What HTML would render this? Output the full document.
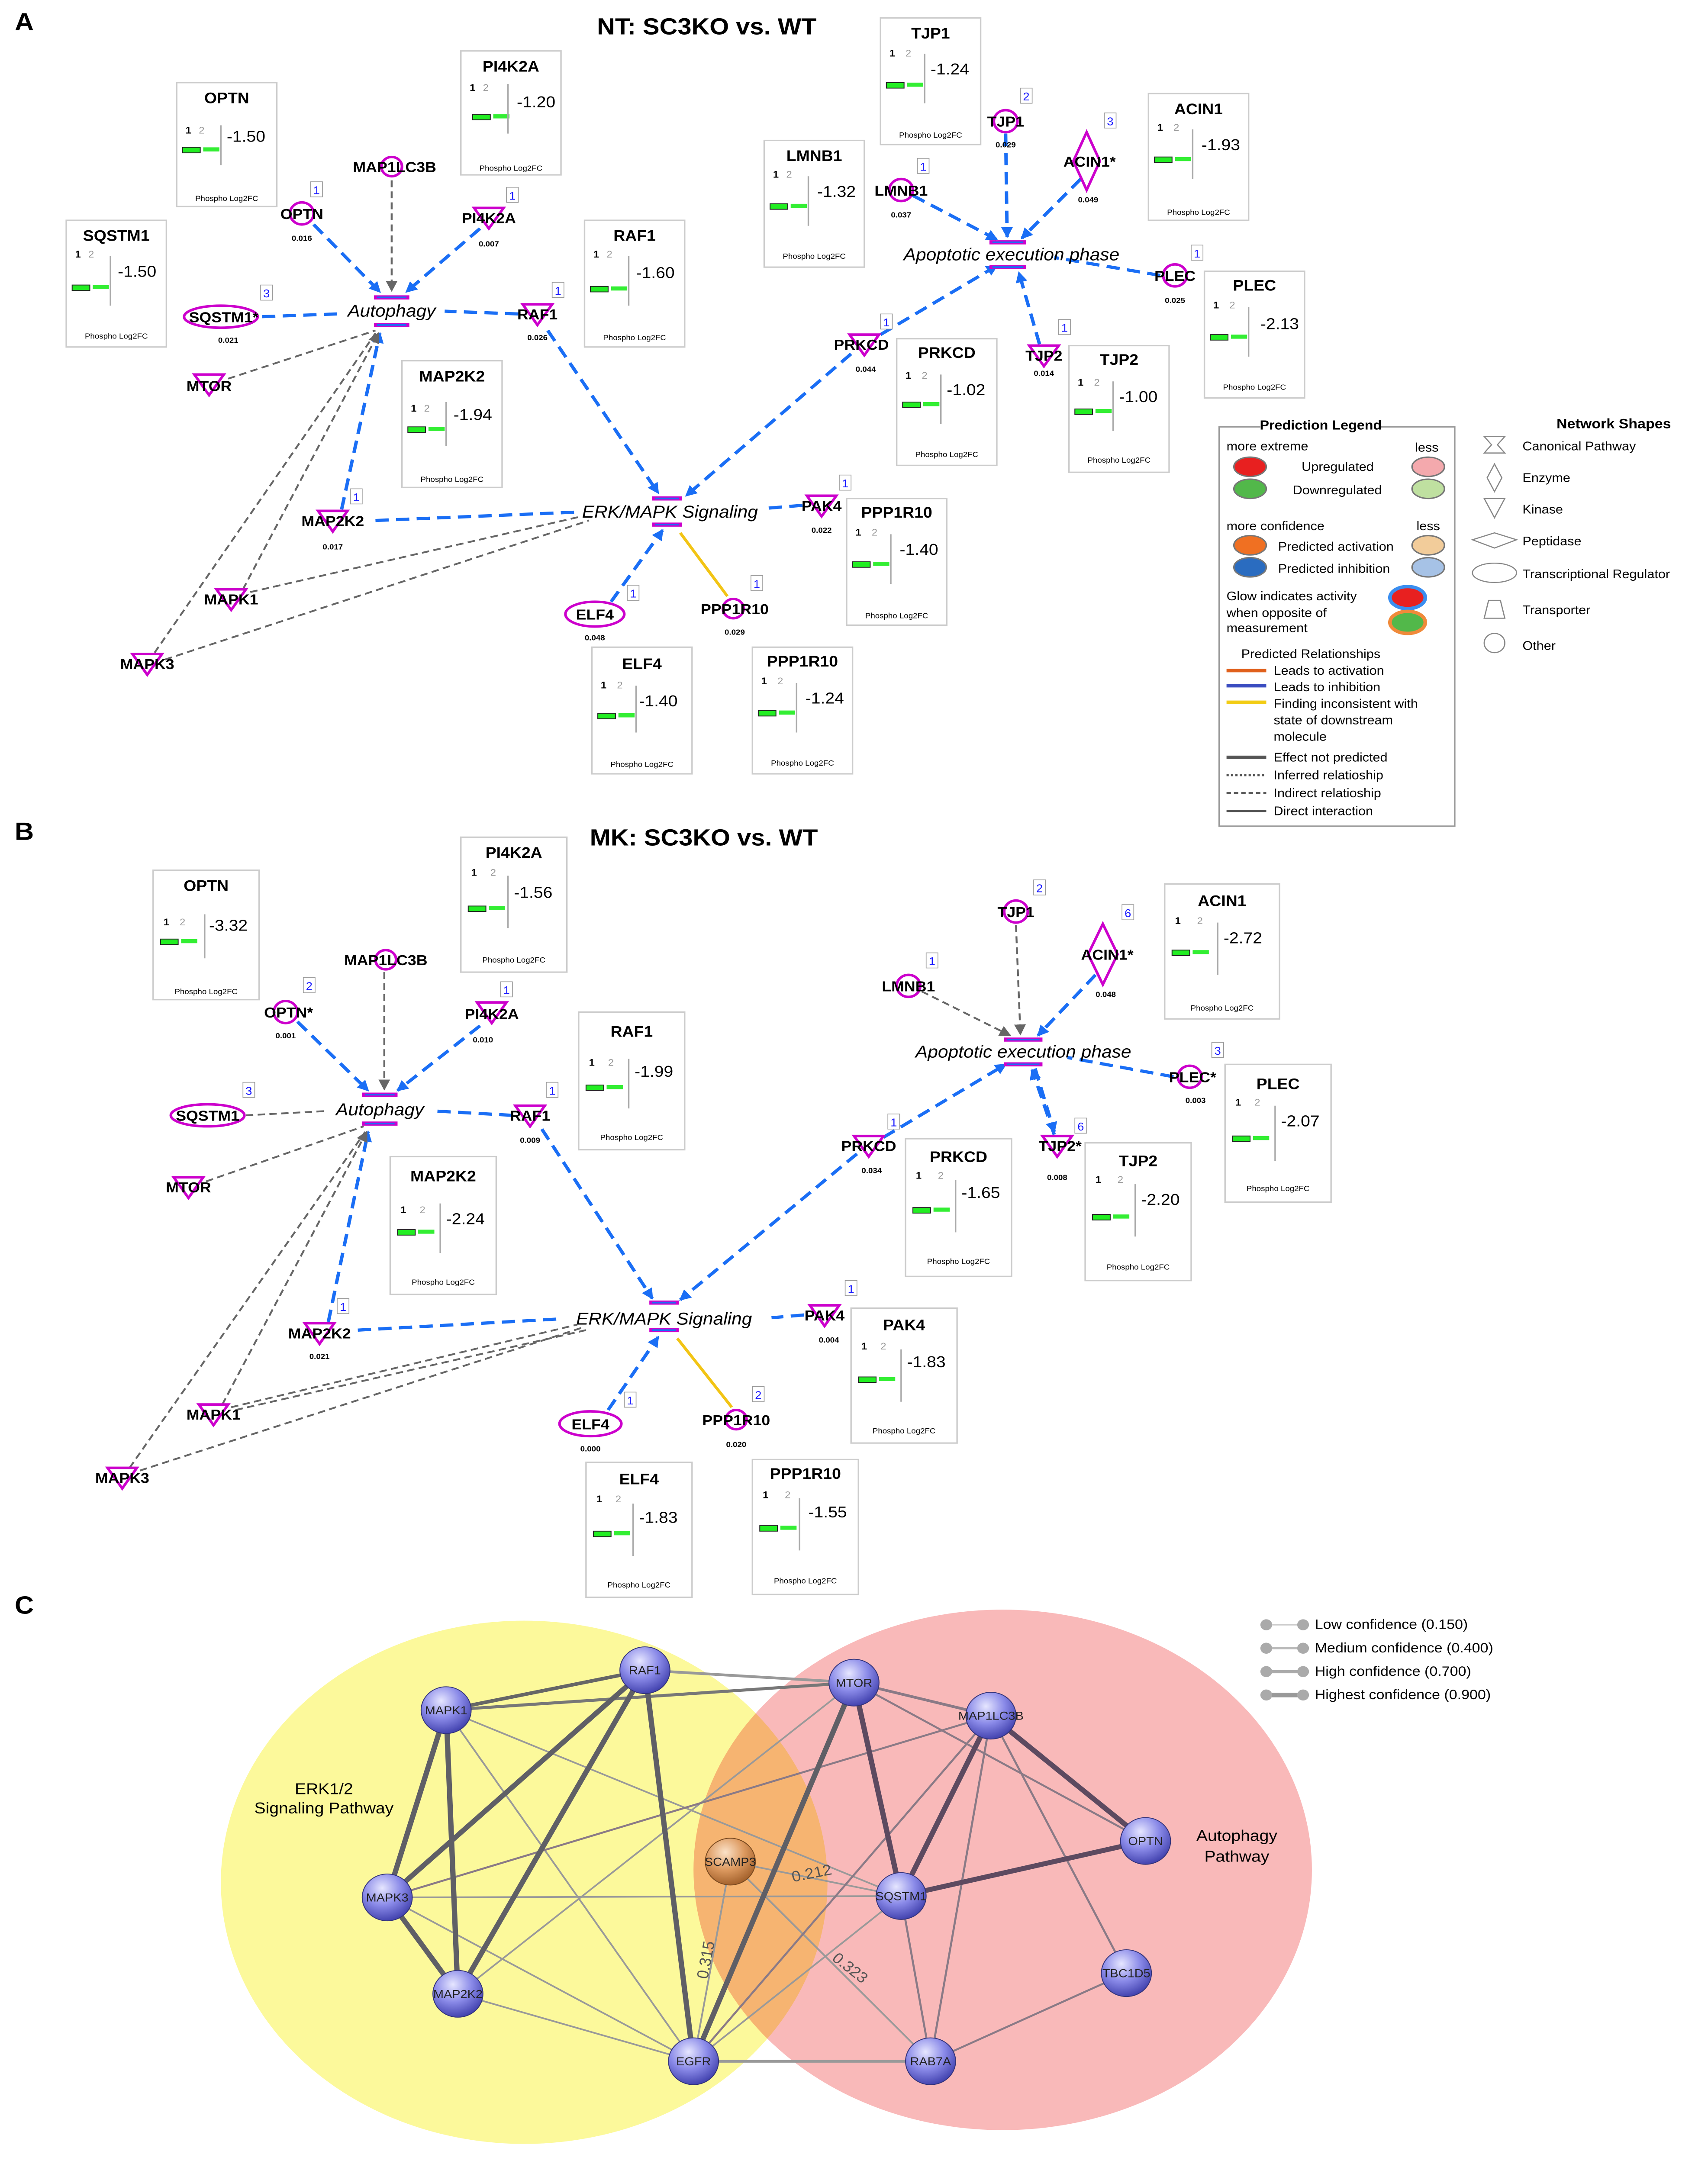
<!DOCTYPE html>
<html><head><meta charset="utf-8">
<style>
html,body{margin:0;padding:0;background:#fff;width:100vw;height:100vh;overflow:hidden;}
#wrap{width:100vw;height:100vh;overflow:hidden;position:relative;}
svg{display:block;position:absolute;left:0;top:0;width:100vw;height:100vh;}
text{font-family:"Liberation Sans",sans-serif;}
.bt{font-size:11px;font-weight:bold;text-anchor:middle;}
.n1{font-size:7px;font-weight:bold;}
.n2{font-size:7px;fill:#999;}
.bv{font-size:11.5px;}
.bf{font-size:5.5px;text-anchor:middle;}
.nl{font-size:10.5px;font-weight:bold;text-anchor:middle;}
.pv{font-size:5.5px;font-weight:bold;text-anchor:middle;}
.bn{font-size:8px;fill:#1a1aff;text-anchor:middle;}
.bd{stroke:#1a6ef5;stroke-width:2.3;stroke-dasharray:9 5;fill:none;}
.gd{stroke:#666;stroke-width:1.3;stroke-dasharray:5 3;fill:none;}
.sh{fill:none;stroke:#c0c;stroke-width:1.8;}
.pw{font-size:12.5px;font-style:italic;text-anchor:middle;}
.lg{font-size:9px;}
.cn{font-size:8.5px;text-anchor:middle;fill:#222;}
</style></head><body><div id="wrap">
<svg viewBox="0 0 1160 1571.6" preserveAspectRatio="none" xmlns="http://www.w3.org/2000/svg">
<defs>
<marker id="ab" markerWidth="8" markerHeight="8" refX="7" refY="4" orient="auto" markerUnits="userSpaceOnUse"><path d="M0,0 L8,4 L0,8 z" fill="#1a6ef5"/></marker>
<marker id="ag" markerWidth="8" markerHeight="8" refX="7" refY="4" orient="auto" markerUnits="userSpaceOnUse"><path d="M0,0 L8,4 L0,8 z" fill="#666"/></marker>
<radialGradient id="sb" cx="0.4" cy="0.3" r="0.75"><stop offset="0" stop-color="#e6e6ff"/><stop offset="0.5" stop-color="#8a8ae8"/><stop offset="1" stop-color="#3a3aa8"/></radialGradient>
<radialGradient id="so" cx="0.4" cy="0.3" r="0.75"><stop offset="0" stop-color="#fbe2c8"/><stop offset="0.5" stop-color="#dd9a60"/><stop offset="1" stop-color="#9c5a25"/></radialGradient>
</defs>
<rect width="1160" height="1572" fill="#fff"/>

<text x="10" y="22" font-size="18" font-weight="bold">A</text>
<text x="480" y="25" font-size="17" font-weight="bold" text-anchor="middle">NT: SC3KO vs. WT</text>

<line class="bd" x1="213" y1="163" x2="258" y2="212" marker-end="url(#ab)"/>
<line class="bd" x1="326" y1="166" x2="276" y2="212" marker-end="url(#ab)"/>
<line class="gd" x1="266" y1="131" x2="266" y2="211" marker-end="url(#ag)"/>
<line class="bd" x1="178" y1="230" x2="229" y2="228"/>
<line class="bd" x1="352" y1="228" x2="302" y2="226"/>
<line class="gd" x1="155" y1="275" x2="255" y2="240"/>
<line class="bd" x1="232" y1="370" x2="258" y2="242" marker-end="url(#ab)"/>
<line class="gd" x1="165" y1="428" x2="257" y2="242" marker-end="url(#ag)"/>
<line class="gd" x1="105" y1="474" x2="255" y2="242"/>
<line class="bd" x1="255" y1="378" x2="390" y2="372"/>
<line class="gd" x1="170" y1="430" x2="395" y2="375"/>
<line class="gd" x1="112" y1="479" x2="400" y2="378"/>
<line class="bd" x1="372" y1="240" x2="447" y2="358" marker-end="url(#ab)"/>
<line class="bd" x1="415" y1="437" x2="450" y2="385" marker-end="url(#ab)"/>
<line x1="494" y1="433" x2="462" y2="387" stroke="#f2c414" stroke-width="2"/>
<line class="bd" x1="545" y1="367" x2="522" y2="369"/>
<line class="bd" x1="578" y1="257" x2="466" y2="360" marker-end="url(#ab)"/>
<line class="bd" x1="598" y1="243" x2="677" y2="193" marker-end="url(#ab)"/>
<line class="bd" x1="683" y1="97" x2="684" y2="172" marker-end="url(#ab)"/>
<line class="bd" x1="620" y1="142" x2="677" y2="174" marker-end="url(#ab)"/>
<line class="bd" x1="734" y1="130" x2="694" y2="173" marker-end="url(#ab)"/>
<line class="bd" x1="788" y1="200" x2="716" y2="187"/>
<line class="bd" x1="706" y1="250" x2="692" y2="198" marker-end="url(#ab)"/>

<g stroke-width="3"><line x1="254" y1="216" x2="278" y2="216" stroke="#c0c"/><line x1="254" y1="236" x2="278" y2="236" stroke="#c0c"/>
<line x1="443" y1="362" x2="463" y2="362" stroke="#c0c"/><line x1="443" y1="381" x2="463" y2="381" stroke="#c0c"/>
<line x1="672" y1="176" x2="697" y2="176" stroke="#c0c"/><line x1="672" y1="194" x2="697" y2="194" stroke="#c0c"/></g>
<g stroke-width="1.2" stroke="#1a6ef5"><line x1="256" y1="216" x2="276" y2="216"/><line x1="256" y1="236" x2="276" y2="236"/><line x1="445" y1="362" x2="461" y2="362"/><line x1="445" y1="381" x2="461" y2="381"/><line x1="674" y1="176" x2="695" y2="176"/><line x1="674" y1="194" x2="695" y2="194"/></g>
<text class="pw" x="266" y="230">Autophagy</text>
<text class="pw" x="455" y="376">ERK/MAPK Signaling</text>
<text class="pw" x="687" y="189">Apoptotic execution phase</text>

<circle class="sh" cx="266" cy="121" r="7"/><text class="nl" x="268" y="125">MAP1LC3B</text>
<circle class="sh" cx="205" cy="155" r="8" fill="#dff5d8"/><text class="nl" x="205" y="159">OPTN</text><text class="pv" x="205" y="175">0.016</text>
<rect x="211" y="132" width="8" height="11" fill="#fff" stroke="#999" stroke-width=".5"/><text class="bn" x="215" y="141">1</text>
<polygon class="sh" points="322,151 342,151 332,166" fill="#dff5d8"/><text class="nl" x="332" y="162">PI4K2A</text><text class="pv" x="332" y="179">0.007</text>
<rect x="344" y="136" width="8" height="11" fill="#fff" stroke="#999" stroke-width=".5"/><text class="bn" x="348" y="145">1</text>
<ellipse class="sh" cx="150" cy="230" rx="25" ry="8" fill="#dff5d8"/><text class="nl" x="152" y="234">SQSTM1*</text><text class="pv" x="155" y="249">0.021</text>
<rect x="177" y="207" width="8" height="11" fill="#fff" stroke="#999" stroke-width=".5"/><text class="bn" x="181" y="216">3</text>
<polygon class="sh" points="132,272 152,272 142,287"/><text class="nl" x="142" y="284">MTOR</text>
<polygon class="sh" points="355,221 375,221 365,236" fill="#dff5d8"/><text class="nl" x="365" y="232">RAF1</text><text class="pv" x="365" y="247">0.026</text>
<rect x="375" y="205" width="8" height="11" fill="#fff" stroke="#999" stroke-width=".5"/><text class="bn" x="379" y="214">1</text>
<polygon class="sh" points="216,371 236,371 226,386" fill="#dff5d8"/><text class="nl" x="226" y="382">MAP2K2</text><text class="pv" x="226" y="399">0.017</text>
<rect x="238" y="355" width="8" height="11" fill="#fff" stroke="#999" stroke-width=".5"/><text class="bn" x="242" y="364">1</text>
<polygon class="sh" points="147,428 167,428 157,443"/><text class="nl" x="157" y="439">MAPK1</text>
<polygon class="sh" points="90,475 110,475 100,490"/><text class="nl" x="100" y="486">MAPK3</text>
<polygon class="sh" points="548,360 568,360 558,375" fill="#dff5d8"/><text class="nl" x="558" y="371">PAK4</text><text class="pv" x="558" y="387">0.022</text>
<rect x="570" y="345" width="8" height="11" fill="#fff" stroke="#999" stroke-width=".5"/><text class="bn" x="574" y="354">1</text>
<ellipse class="sh" cx="404" cy="446" rx="20" ry="9" fill="#cfeec0"/><text class="nl" x="404" y="450">ELF4</text><text class="pv" x="404" y="465">0.048</text>
<rect x="426" y="425" width="8" height="11" fill="#fff" stroke="#999" stroke-width=".5"/><text class="bn" x="430" y="434">1</text>
<circle class="sh" cx="498" cy="442" r="7" fill="#dff5d8"/><text class="nl" x="499" y="446">PPP1R10</text><text class="pv" x="499" y="461">0.029</text>
<rect x="510" y="418" width="8" height="11" fill="#fff" stroke="#999" stroke-width=".5"/><text class="bn" x="514" y="427">1</text>
<polygon class="sh" points="577,243 597,243 587,258" fill="#dff5d8"/><text class="nl" x="585" y="254">PRKCD</text><text class="pv" x="588" y="270">0.044</text>
<rect x="598" y="228" width="8" height="11" fill="#fff" stroke="#999" stroke-width=".5"/><text class="bn" x="602" y="237">1</text>
<circle class="sh" cx="683" cy="88" r="8" fill="#dff5d8"/><text class="nl" x="683" y="92">TJP1</text><text class="pv" x="683" y="107">0.029</text>
<rect x="693" y="64" width="8" height="11" fill="#fff" stroke="#999" stroke-width=".5"/><text class="bn" x="697" y="73">2</text>
<circle class="sh" cx="612" cy="138" r="8" fill="#dff5d8"/><text class="nl" x="612" y="142">LMNB1</text><text class="pv" x="612" y="158">0.037</text>
<rect x="623" y="115" width="8" height="11" fill="#fff" stroke="#999" stroke-width=".5"/><text class="bn" x="627" y="124">1</text>
<polygon class="sh" points="738,96 747,117 738,138 729,117" fill="#bde0a8"/><text class="nl" x="740" y="121">ACIN1*</text><text class="pv" x="739" y="147">0.049</text>
<rect x="750" y="82" width="8" height="11" fill="#fff" stroke="#999" stroke-width=".5"/><text class="bn" x="754" y="91">3</text>
<circle class="sh" cx="798" cy="200" r="8" fill="#dff5d8"/><text class="nl" x="798" y="204">PLEC</text><text class="pv" x="798" y="220">0.025</text>
<rect x="809" y="178" width="8" height="11" fill="#fff" stroke="#999" stroke-width=".5"/><text class="bn" x="813" y="187">1</text>
<polygon class="sh" points="699,251 719,251 709,266" fill="#dff5d8"/><text class="nl" x="709" y="262">TJP2</text><text class="pv" x="709" y="273">0.014</text>
<rect x="719" y="232" width="8" height="11" fill="#fff" stroke="#999" stroke-width=".5"/><text class="bn" x="723" y="241">1</text>

<g transform="translate(120,60)"><rect width="68" height="90" fill="#fff" stroke="#ccc"/><text class="bt" x="34" y="15">OPTN</text><text class="n1" x="6" y="37">1</text><text class="n2" x="15" y="37">2</text><rect x="4" y="47" width="12" height="4" fill="#2e2" stroke="#222" stroke-width=".6"/><rect x="18" y="47" width="11" height="3" fill="#3e3"/><line x1="30" y1="31" x2="30" y2="60" stroke="#aaa"/><text class="bv" x="34" y="43">-1.50</text><text class="bf" x="34" y="86">Phospho Log2FC</text></g>
<g transform="translate(313,37)"><rect width="68" height="90" fill="#fff" stroke="#ccc"/><text class="bt" x="34" y="15">PI4K2A</text><text class="n1" x="6" y="29">1</text><text class="n2" x="15" y="29">2</text><rect x="8" y="46" width="12" height="4" fill="#2e2" stroke="#222" stroke-width=".6"/><rect x="22" y="46" width="11" height="3" fill="#3e3"/><line x1="32" y1="24" x2="32" y2="60" stroke="#aaa"/><text class="bv" x="38" y="41">-1.20</text><text class="bf" x="34" y="87">Phospho Log2FC</text></g>
<g transform="translate(45,160)"><rect width="68" height="92" fill="#fff" stroke="#ccc"/><text class="bt" x="34" y="15">SQSTM1</text><text class="n1" x="6" y="27">1</text><text class="n2" x="15" y="27">2</text><rect x="4" y="47" width="12" height="4" fill="#2e2" stroke="#222" stroke-width=".6"/><rect x="18" y="47" width="11" height="3" fill="#3e3"/><line x1="30" y1="26" x2="30" y2="62" stroke="#aaa"/><text class="bv" x="35" y="41">-1.50</text><text class="bf" x="34" y="86">Phospho Log2FC</text></g>
<g transform="translate(397,160)"><rect width="68" height="92" fill="#fff" stroke="#ccc"/><text class="bt" x="34" y="15">RAF1</text><text class="n1" x="6" y="27">1</text><text class="n2" x="15" y="27">2</text><rect x="4" y="48" width="12" height="4" fill="#2e2" stroke="#222" stroke-width=".6"/><rect x="18" y="48" width="11" height="3" fill="#3e3"/><line x1="30" y1="26" x2="30" y2="62" stroke="#aaa"/><text class="bv" x="35" y="42">-1.60</text><text class="bf" x="34" y="87">Phospho Log2FC</text></g>
<g transform="translate(273,262)"><rect width="68" height="92" fill="#fff" stroke="#ccc"/><text class="bt" x="34" y="15">MAP2K2</text><text class="n1" x="6" y="37">1</text><text class="n2" x="15" y="37">2</text><rect x="4" y="48" width="12" height="4" fill="#2e2" stroke="#222" stroke-width=".6"/><rect x="18" y="48" width="11" height="3" fill="#3e3"/><line x1="30" y1="30" x2="30" y2="62" stroke="#aaa"/><text class="bv" x="35" y="43">-1.94</text><text class="bf" x="34" y="88">Phospho Log2FC</text></g>
<g transform="translate(519,102)"><rect width="68" height="92" fill="#fff" stroke="#ccc"/><text class="bt" x="34" y="15">LMNB1</text><text class="n1" x="6" y="27">1</text><text class="n2" x="15" y="27">2</text><rect x="4" y="46" width="12" height="4" fill="#2e2" stroke="#222" stroke-width=".6"/><rect x="18" y="46" width="11" height="3" fill="#3e3"/><line x1="30" y1="26" x2="30" y2="62" stroke="#aaa"/><text class="bv" x="36" y="41">-1.32</text><text class="bf" x="34" y="86">Phospho Log2FC</text></g>
<g transform="translate(598,13)"><rect width="68" height="92" fill="#fff" stroke="#ccc"/><text class="bt" x="34" y="15">TJP1</text><text class="n1" x="6" y="28">1</text><text class="n2" x="17" y="28">2</text><rect x="4" y="47" width="12" height="4" fill="#2e2" stroke="#222" stroke-width=".6"/><rect x="18" y="47" width="11" height="3" fill="#3e3"/><line x1="30" y1="26" x2="30" y2="62" stroke="#aaa"/><text class="bv" x="34" y="41">-1.24</text><text class="bf" x="34" y="87">Phospho Log2FC</text></g>
<g transform="translate(780,68)"><rect width="68" height="92" fill="#fff" stroke="#ccc"/><text class="bt" x="34" y="15">ACIN1</text><text class="n1" x="6" y="27">1</text><text class="n2" x="17" y="27">2</text><rect x="4" y="46" width="12" height="4" fill="#2e2" stroke="#222" stroke-width=".6"/><rect x="18" y="46" width="11" height="3" fill="#3e3"/><line x1="30" y1="26" x2="30" y2="62" stroke="#aaa"/><text class="bv" x="36" y="41">-1.93</text><text class="bf" x="34" y="88">Phospho Log2FC</text></g>
<g transform="translate(818,197)"><rect width="68" height="92" fill="#fff" stroke="#ccc"/><text class="bt" x="34" y="14">PLEC</text><text class="n1" x="6" y="27">1</text><text class="n2" x="17" y="27">2</text><rect x="4" y="46" width="12" height="4" fill="#2e2" stroke="#222" stroke-width=".6"/><rect x="18" y="46" width="11" height="3" fill="#3e3"/><line x1="30" y1="26" x2="30" y2="62" stroke="#aaa"/><text class="bv" x="38" y="42">-2.13</text><text class="bf" x="34" y="86">Phospho Log2FC</text></g>
<g transform="translate(609,246)"><rect width="68" height="92" fill="#fff" stroke="#ccc"/><text class="bt" x="34" y="14">PRKCD</text><text class="n1" x="6" y="29">1</text><text class="n2" x="17" y="29">2</text><rect x="4" y="46" width="12" height="4" fill="#2e2" stroke="#222" stroke-width=".6"/><rect x="18" y="46" width="11" height="3" fill="#3e3"/><line x1="30" y1="26" x2="30" y2="62" stroke="#aaa"/><text class="bv" x="34" y="41">-1.02</text><text class="bf" x="34" y="86">Phospho Log2FC</text></g>
<g transform="translate(726,251)"><rect width="68" height="92" fill="#fff" stroke="#ccc"/><text class="bt" x="34" y="14">TJP2</text><text class="n1" x="6" y="29">1</text><text class="n2" x="17" y="29">2</text><rect x="4" y="46" width="12" height="4" fill="#2e2" stroke="#222" stroke-width=".6"/><rect x="18" y="46" width="11" height="3" fill="#3e3"/><line x1="30" y1="26" x2="30" y2="62" stroke="#aaa"/><text class="bv" x="34" y="41">-1.00</text><text class="bf" x="34" y="85">Phospho Log2FC</text></g>
<g transform="translate(575,362)"><rect width="68" height="92" fill="#fff" stroke="#ccc"/><text class="bt" x="34" y="14">PPP1R10</text><text class="n1" x="6" y="27">1</text><text class="n2" x="17" y="27">2</text><rect x="4" y="46" width="12" height="4" fill="#2e2" stroke="#222" stroke-width=".6"/><rect x="18" y="46" width="11" height="3" fill="#3e3"/><line x1="30" y1="26" x2="30" y2="62" stroke="#aaa"/><text class="bv" x="36" y="41">-1.40</text><text class="bf" x="34" y="87">Phospho Log2FC</text></g>
<g transform="translate(402,470)"><rect width="68" height="92" fill="#fff" stroke="#ccc"/><text class="bt" x="34" y="16">ELF4</text><text class="n1" x="6" y="30">1</text><text class="n2" x="17" y="30">2</text><rect x="4" y="48" width="12" height="4" fill="#2e2" stroke="#222" stroke-width=".6"/><rect x="18" y="48" width="11" height="3" fill="#3e3"/><line x1="30" y1="28" x2="30" y2="62" stroke="#aaa"/><text class="bv" x="32" y="43">-1.40</text><text class="bf" x="34" y="87">Phospho Log2FC</text></g>
<g transform="translate(511,470)"><rect width="68" height="92" fill="#fff" stroke="#ccc"/><text class="bt" x="34" y="14">PPP1R10</text><text class="n1" x="6" y="27">1</text><text class="n2" x="17" y="27">2</text><rect x="4" y="46" width="12" height="4" fill="#2e2" stroke="#222" stroke-width=".6"/><rect x="18" y="46" width="11" height="3" fill="#3e3"/><line x1="30" y1="26" x2="30" y2="62" stroke="#aaa"/><text class="bv" x="36" y="41">-1.24</text><text class="bf" x="34" y="86">Phospho Log2FC</text></g>

<rect x="828" y="310" width="160" height="290" fill="#fff" stroke="#999"/>
<rect x="856" y="303" width="82" height="12" fill="#fff"/>
<text x="897" y="312" font-size="9.5" font-weight="bold" text-anchor="middle">Prediction Legend</text>
<text class="lg" x="833" y="327">more extreme</text><text class="lg" x="961" y="328">less</text>
<ellipse cx="849" cy="339" rx="11" ry="7" fill="#e82020" stroke="#777"/><text class="lg" x="884" y="342">Upregulated</text><ellipse cx="970" cy="339" rx="11" ry="7" fill="#f4a9ad" stroke="#777"/>
<ellipse cx="849" cy="355" rx="11" ry="7" fill="#52b84a" stroke="#777"/><text class="lg" x="878" y="359">Downregulated</text><ellipse cx="970" cy="355" rx="11" ry="7" fill="#bfe0a0" stroke="#777"/>
<text class="lg" x="833" y="385">more confidence</text><text class="lg" x="962" y="385">less</text>
<ellipse cx="849" cy="396" rx="11" ry="7" fill="#f07022" stroke="#777"/><text class="lg" x="868" y="400">Predicted activation</text><ellipse cx="970" cy="396" rx="11" ry="7" fill="#f2cc9a" stroke="#777"/>
<ellipse cx="849" cy="412" rx="11" ry="7" fill="#2a6cc0" stroke="#777"/><text class="lg" x="868" y="416">Predicted inhibition</text><ellipse cx="970" cy="412" rx="11" ry="7" fill="#a6c2e6" stroke="#777"/>
<text class="lg" x="833" y="436">Glow indicates activity</text><text class="lg" x="833" y="448">when opposite of</text><text class="lg" x="833" y="459">measurement</text>
<ellipse cx="956" cy="434" rx="12" ry="8" fill="#e82020" stroke="#3a8ef0" stroke-width="2.5"/>
<ellipse cx="956" cy="452" rx="12" ry="8" fill="#52b84a" stroke="#f08a3a" stroke-width="2.5"/>
<text class="lg" x="843" y="478">Predicted Relationships</text>
<line x1="833" y1="487" x2="860" y2="487" stroke="#e0601c" stroke-width="2.5"/><text class="lg" x="865" y="490">Leads to activation</text>
<line x1="833" y1="498" x2="860" y2="498" stroke="#3a4cc0" stroke-width="2.5"/><text class="lg" x="865" y="502">Leads to inhibition</text>
<line x1="833" y1="510" x2="860" y2="510" stroke="#f2cc14" stroke-width="2.5"/><text class="lg" x="865" y="514">Finding inconsistent with</text><text class="lg" x="865" y="526">state of downstream</text><text class="lg" x="865" y="538">molecule</text>
<line x1="833" y1="550" x2="860" y2="550" stroke="#555" stroke-width="2.5"/><text class="lg" x="865" y="553">Effect not predicted</text>
<line x1="833" y1="563" x2="860" y2="563" stroke="#555" stroke-width="1.5" stroke-dasharray="1.5 1.5"/><text class="lg" x="865" y="566">Inferred relatioship</text>
<line x1="833" y1="576" x2="860" y2="576" stroke="#555" stroke-width="1.5" stroke-dasharray="3 2"/><text class="lg" x="865" y="579">Indirect relatioship</text>
<line x1="833" y1="589" x2="860" y2="589" stroke="#555" stroke-width="1.5"/><text class="lg" x="865" y="592">Direct interaction</text>

<text x="1096" y="311" font-size="10" font-weight="bold" text-anchor="middle">Network Shapes</text>
<g fill="none" stroke="#888" stroke-width=".8">
<path d="M1008,317 L1022,317 L1017,323 L1022,329 L1008,329 L1013,323 Z"/>
<polygon points="1015,337 1020,347 1015,357 1010,347"/>
<polygon points="1008,362 1022,362 1015,376"/>
<polygon points="1000,392 1015,387 1030,392 1015,398"/>
<ellipse cx="1015" cy="416" rx="15" ry="7"/>
<polygon points="1011,436 1019,436 1022,449 1008,449"/>
<circle cx="1015" cy="467" r="7"/>
</g>
<text class="lg" x="1034" y="327">Canonical Pathway</text>
<text class="lg" x="1034" y="350">Enzyme</text>
<text class="lg" x="1034" y="373">Kinase</text>
<text class="lg" x="1034" y="396">Peptidase</text>
<text class="lg" x="1034" y="420">Transcriptional Regulator</text>
<text class="lg" x="1034" y="446">Transporter</text>
<text class="lg" x="1034" y="472">Other</text>

<text x="10" y="610" font-size="18" font-weight="bold">B</text>
<text x="478" y="614" font-size="17" font-weight="bold" text-anchor="middle">MK: SC3KO vs. WT</text>

<line class="gd" x1="261" y1="706" x2="261" y2="791" marker-end="url(#ag)"/>
<line class="bd" x1="202" y1="742" x2="250" y2="792" marker-end="url(#ab)"/>
<line class="bd" x1="326" y1="745" x2="270" y2="792" marker-end="url(#ab)"/>
<line class="gd" x1="167" y1="810" x2="220" y2="807"/>
<line class="bd" x1="348" y1="810" x2="297" y2="807"/>
<line class="gd" x1="140" y1="858" x2="247" y2="818"/>
<line class="bd" x1="223" y1="960" x2="250" y2="822" marker-end="url(#ab)"/>
<line class="gd" x1="151" y1="1020" x2="249" y2="822" marker-end="url(#ag)"/>
<line class="gd" x1="88" y1="1066" x2="248" y2="822"/>
<line class="bd" x1="243" y1="966" x2="378" y2="958"/>
<line class="gd" x1="157" y1="1022" x2="392" y2="962"/>
<line class="gd" x1="95" y1="1068" x2="396" y2="964"/>
<line class="gd" x1="160" y1="1024" x2="398" y2="966"/>
<line class="bd" x1="368" y1="820" x2="443" y2="943" marker-end="url(#ab)"/>
<line class="bd" x1="413" y1="1024" x2="447" y2="971" marker-end="url(#ab)"/>
<line x1="497" y1="1022" x2="460" y2="972" stroke="#f2c414" stroke-width="2"/>
<line class="bd" x1="546" y1="955" x2="524" y2="957"/>
<line class="bd" x1="582" y1="838" x2="462" y2="944" marker-end="url(#ab)"/>
<line class="bd" x1="600" y1="826" x2="683" y2="773" marker-end="url(#ab)"/>
<line class="gd" x1="690" y1="672" x2="693" y2="751" marker-end="url(#ag)"/>
<line class="gd" x1="626" y1="720" x2="686" y2="752" marker-end="url(#ag)"/>
<line class="bd" x1="744" y1="708" x2="705" y2="752" marker-end="url(#ab)"/>
<line class="bd" x1="797" y1="782" x2="725" y2="768"/>
<line class="bd" x1="716" y1="824" x2="701" y2="777" marker-end="url(#ab)"/>
<line class="bd" x1="703" y1="776" x2="716" y2="822" marker-end="url(#ab)"/>

<g stroke-width="3" stroke="#c0c"><line x1="246" y1="795" x2="270" y2="795"/><line x1="246" y1="816" x2="270" y2="816"/>
<line x1="441" y1="946" x2="461" y2="946"/><line x1="441" y1="966" x2="461" y2="966"/>
<line x1="682" y1="755" x2="708" y2="755"/><line x1="682" y1="773" x2="708" y2="773"/></g>
<g stroke-width="1.2" stroke="#1a6ef5"><line x1="248" y1="795" x2="268" y2="795"/><line x1="248" y1="816" x2="268" y2="816"/><line x1="443" y1="946" x2="459" y2="946"/><line x1="443" y1="966" x2="459" y2="966"/><line x1="684" y1="755" x2="706" y2="755"/><line x1="684" y1="773" x2="706" y2="773"/></g>
<text class="pw" x="258" y="810">Autophagy</text>
<text class="pw" x="451" y="962">ERK/MAPK Signaling</text>
<text class="pw" x="695" y="768">Apoptotic execution phase</text>

<circle class="sh" cx="262" cy="697" r="7"/><text class="nl" x="262" y="701">MAP1LC3B</text>
<circle class="sh" cx="194" cy="735" r="8" fill="#dff5d8"/><text class="nl" x="196" y="739">OPTN*</text><text class="pv" x="194" y="754">0.001</text>
<rect x="206" y="710" width="8" height="11" fill="#fff" stroke="#999" stroke-width=".5"/><text class="bn" x="210" y="719">2</text>
<polygon class="sh" points="324,728 344,728 334,743" fill="#dff5d8"/><text class="nl" x="334" y="740">PI4K2A</text><text class="pv" x="328" y="757">0.010</text>
<rect x="340" y="713" width="8" height="11" fill="#fff" stroke="#999" stroke-width=".5"/><text class="bn" x="344" y="722">1</text>
<ellipse class="sh" cx="141" cy="810" rx="25" ry="8"/><text class="nl" x="141" y="814">SQSTM1</text>
<rect x="165" y="786" width="8" height="11" fill="#fff" stroke="#999" stroke-width=".5"/><text class="bn" x="169" y="795">3</text>
<polygon class="sh" points="118,855 138,855 128,870"/><text class="nl" x="128" y="866">MTOR</text>
<polygon class="sh" points="350,803 370,803 360,818" fill="#dff5d8"/><text class="nl" x="360" y="814">RAF1</text><text class="pv" x="360" y="830">0.009</text>
<rect x="371" y="786" width="8" height="11" fill="#fff" stroke="#999" stroke-width=".5"/><text class="bn" x="375" y="795">1</text>
<polygon class="sh" points="207,961 227,961 217,976" fill="#dff5d8"/><text class="nl" x="217" y="972">MAP2K2</text><text class="pv" x="217" y="987">0.021</text>
<rect x="229" y="943" width="8" height="11" fill="#fff" stroke="#999" stroke-width=".5"/><text class="bn" x="233" y="952">1</text>
<polygon class="sh" points="135,1020 155,1020 145,1035"/><text class="nl" x="145" y="1031">MAPK1</text>
<polygon class="sh" points="73,1066 93,1066 83,1081"/><text class="nl" x="83" y="1077">MAPK3</text>
<polygon class="sh" points="550,948 570,948 560,963" fill="#dff5d8"/><text class="nl" x="560" y="959">PAK4</text><text class="pv" x="563" y="975">0.004</text>
<rect x="574" y="930" width="8" height="11" fill="#fff" stroke="#999" stroke-width=".5"/><text class="bn" x="578" y="939">1</text>
<ellipse class="sh" cx="401" cy="1034" rx="21" ry="9" fill="#cfeec0"/><text class="nl" x="401" y="1038">ELF4</text><text class="pv" x="401" y="1054">0.000</text>
<rect x="424" y="1011" width="8" height="11" fill="#fff" stroke="#999" stroke-width=".5"/><text class="bn" x="428" y="1020">1</text>
<circle class="sh" cx="500" cy="1031" r="7" fill="#dff5d8"/><text class="nl" x="500" y="1035">PPP1R10</text><text class="pv" x="500" y="1051">0.020</text>
<rect x="511" y="1007" width="8" height="11" fill="#fff" stroke="#999" stroke-width=".5"/><text class="bn" x="515" y="1016">2</text>
<polygon class="sh" points="580,825 600,825 590,840" fill="#dff5d8"/><text class="nl" x="590" y="836">PRKCD</text><text class="pv" x="592" y="852">0.034</text>
<rect x="603" y="809" width="8" height="11" fill="#fff" stroke="#999" stroke-width=".5"/><text class="bn" x="607" y="818">1</text>
<circle class="sh" cx="690" cy="662" r="8"/><text class="nl" x="690" y="666">TJP1</text>
<rect x="702" y="639" width="8" height="11" fill="#fff" stroke="#999" stroke-width=".5"/><text class="bn" x="706" y="648">2</text>
<circle class="sh" cx="617" cy="716" r="8"/><text class="nl" x="617" y="720">LMNB1</text>
<rect x="629" y="692" width="8" height="11" fill="#fff" stroke="#999" stroke-width=".5"/><text class="bn" x="633" y="701">1</text>
<polygon class="sh" points="749,671 759,693 749,715 739,693" fill="#8fd07a"/><text class="nl" x="752" y="697">ACIN1*</text><text class="pv" x="751" y="724">0.048</text>
<rect x="762" y="657" width="8" height="11" fill="#fff" stroke="#999" stroke-width=".5"/><text class="bn" x="766" y="666">6</text>
<circle class="sh" cx="808" cy="782" r="8" fill="#dff5d8"/><text class="nl" x="810" y="786">PLEC*</text><text class="pv" x="812" y="801">0.003</text>
<rect x="823" y="757" width="8" height="11" fill="#fff" stroke="#999" stroke-width=".5"/><text class="bn" x="827" y="766">3</text>
<polygon class="sh" points="708,825 728,825 718,840" fill="#dff5d8"/><text class="nl" x="720" y="836">TJP2*</text><text class="pv" x="718" y="857">0.008</text>
<rect x="730" y="812" width="8" height="11" fill="#fff" stroke="#999" stroke-width=".5"/><text class="bn" x="734" y="821">6</text>

<g transform="translate(104,632)"><rect width="72" height="94" fill="#fff" stroke="#ccc"/><text class="bt" x="36" y="15">OPTN</text><text class="n1" x="7" y="40">1</text><text class="n2" x="18" y="40">2</text><rect x="5" y="50" width="12" height="4" fill="#2e2" stroke="#222" stroke-width=".6"/><rect x="19" y="50" width="11" height="3" fill="#3e3"/><line x1="35" y1="32" x2="35" y2="64" stroke="#aaa"/><text class="bv" x="38" y="44">-3.32</text><text class="bf" x="36" y="90">Phospho Log2FC</text></g>
<g transform="translate(313,608)"><rect width="72" height="98" fill="#fff" stroke="#ccc"/><text class="bt" x="36" y="15">PI4K2A</text><text class="n1" x="7" y="28">1</text><text class="n2" x="20" y="28">2</text><rect x="5" y="50" width="12" height="4" fill="#2e2" stroke="#222" stroke-width=".6"/><rect x="19" y="50" width="11" height="3" fill="#3e3"/><line x1="32" y1="28" x2="32" y2="66" stroke="#aaa"/><text class="bv" x="36" y="44">-1.56</text><text class="bf" x="36" y="91">Phospho Log2FC</text></g>
<g transform="translate(393,735)"><rect width="72" height="100" fill="#fff" stroke="#ccc"/><text class="bt" x="36" y="18">RAF1</text><text class="n1" x="7" y="39">1</text><text class="n2" x="20" y="39">2</text><rect x="5" y="53" width="12" height="4" fill="#2e2" stroke="#222" stroke-width=".6"/><rect x="19" y="53" width="11" height="3" fill="#3e3"/><line x1="34" y1="34" x2="34" y2="70" stroke="#aaa"/><text class="bv" x="38" y="47">-1.99</text><text class="bf" x="36" y="93">Phospho Log2FC</text></g>
<g transform="translate(265,840)"><rect width="72" height="100" fill="#fff" stroke="#ccc"/><text class="bt" x="36" y="18">MAP2K2</text><text class="n1" x="7" y="41">1</text><text class="n2" x="20" y="41">2</text><rect x="5" y="53" width="12" height="4" fill="#2e2" stroke="#222" stroke-width=".6"/><rect x="19" y="53" width="11" height="3" fill="#3e3"/><line x1="34" y1="34" x2="34" y2="70" stroke="#aaa"/><text class="bv" x="38" y="49">-2.24</text><text class="bf" x="36" y="93">Phospho Log2FC</text></g>
<g transform="translate(791,642)"><rect width="78" height="98" fill="#fff" stroke="#ccc"/><text class="bt" x="39" y="16">ACIN1</text><text class="n1" x="7" y="29">1</text><text class="n2" x="22" y="29">2</text><rect x="5" y="48" width="12" height="4" fill="#2e2" stroke="#222" stroke-width=".6"/><rect x="19" y="48" width="11" height="3" fill="#3e3"/><line x1="36" y1="28" x2="36" y2="66" stroke="#aaa"/><text class="bv" x="40" y="43">-2.72</text><text class="bf" x="39" y="92">Phospho Log2FC</text></g>
<g transform="translate(832,773)"><rect width="72" height="100" fill="#fff" stroke="#ccc"/><text class="bt" x="36" y="18">PLEC</text><text class="n1" x="7" y="30">1</text><text class="n2" x="20" y="30">2</text><rect x="5" y="52" width="12" height="4" fill="#2e2" stroke="#222" stroke-width=".6"/><rect x="19" y="52" width="11" height="3" fill="#3e3"/><line x1="34" y1="30" x2="34" y2="70" stroke="#aaa"/><text class="bv" x="38" y="45">-2.07</text><text class="bf" x="36" y="92">Phospho Log2FC</text></g>
<g transform="translate(615,827)"><rect width="72" height="100" fill="#fff" stroke="#ccc"/><text class="bt" x="36" y="17">PRKCD</text><text class="n1" x="7" y="29">1</text><text class="n2" x="22" y="29">2</text><rect x="5" y="50" width="12" height="4" fill="#2e2" stroke="#222" stroke-width=".6"/><rect x="19" y="50" width="11" height="3" fill="#3e3"/><line x1="34" y1="30" x2="34" y2="68" stroke="#aaa"/><text class="bv" x="38" y="43">-1.65</text><text class="bf" x="36" y="91">Phospho Log2FC</text></g>
<g transform="translate(737,830)"><rect width="72" height="100" fill="#fff" stroke="#ccc"/><text class="bt" x="36" y="17">TJP2</text><text class="n1" x="7" y="29">1</text><text class="n2" x="22" y="29">2</text><rect x="5" y="52" width="12" height="4" fill="#2e2" stroke="#222" stroke-width=".6"/><rect x="19" y="52" width="11" height="3" fill="#3e3"/><line x1="34" y1="30" x2="34" y2="68" stroke="#aaa"/><text class="bv" x="38" y="45">-2.20</text><text class="bf" x="36" y="92">Phospho Log2FC</text></g>
<g transform="translate(578,950)"><rect width="72" height="98" fill="#fff" stroke="#ccc"/><text class="bt" x="36" y="16">PAK4</text><text class="n1" x="7" y="30">1</text><text class="n2" x="20" y="30">2</text><rect x="5" y="50" width="12" height="4" fill="#2e2" stroke="#222" stroke-width=".6"/><rect x="19" y="50" width="11" height="3" fill="#3e3"/><line x1="34" y1="30" x2="34" y2="68" stroke="#aaa"/><text class="bv" x="38" y="43">-1.83</text><text class="bf" x="36" y="91">Phospho Log2FC</text></g>
<g transform="translate(398,1062)"><rect width="72" height="98" fill="#fff" stroke="#ccc"/><text class="bt" x="36" y="16">ELF4</text><text class="n1" x="7" y="29">1</text><text class="n2" x="20" y="29">2</text><rect x="5" y="50" width="12" height="4" fill="#2e2" stroke="#222" stroke-width=".6"/><rect x="19" y="50" width="11" height="3" fill="#3e3"/><line x1="32" y1="30" x2="32" y2="68" stroke="#aaa"/><text class="bv" x="36" y="44">-1.83</text><text class="bf" x="36" y="91">Phospho Log2FC</text></g>
<g transform="translate(511,1060)"><rect width="72" height="98" fill="#fff" stroke="#ccc"/><text class="bt" x="36" y="14">PPP1R10</text><text class="n1" x="7" y="28">1</text><text class="n2" x="22" y="28">2</text><rect x="5" y="48" width="12" height="4" fill="#2e2" stroke="#222" stroke-width=".6"/><rect x="19" y="48" width="11" height="3" fill="#3e3"/><line x1="32" y1="28" x2="32" y2="66" stroke="#aaa"/><text class="bv" x="38" y="42">-1.55</text><text class="bf" x="36" y="90">Phospho Log2FC</text></g>

<text x="10" y="1172" font-size="18" font-weight="bold">C</text>
<ellipse cx="356" cy="1367" rx="206" ry="190" fill="#fcf99b"/>
<ellipse cx="681" cy="1358" rx="210" ry="189" fill="#f9b9b9" style="mix-blend-mode:multiply"/>
<text x="220" y="1303" font-size="11.5" text-anchor="middle">ERK1/2</text>
<text x="220" y="1317" font-size="11.5" text-anchor="middle">Signaling Pathway</text>
<text x="840" y="1337" font-size="11.5" text-anchor="middle">Autophagy</text>
<text x="840" y="1352" font-size="11.5" text-anchor="middle">Pathway</text>

<g stroke-linecap="round">
<g stroke="#999" stroke-width="1.2">
<line x1="303" y1="1242" x2="471" y2="1497"/><line x1="263" y1="1378" x2="471" y2="1497"/><line x1="311" y1="1448" x2="471" y2="1497"/>
<line x1="263" y1="1378" x2="612" y2="1377"/><line x1="303" y1="1242" x2="612" y2="1377"/>
<line x1="496" y1="1352" x2="471" y2="1497"/><line x1="496" y1="1352" x2="612" y2="1377"/><line x1="496" y1="1352" x2="632" y2="1497"/>
<line x1="471" y1="1497" x2="612" y2="1377"/><line x1="311" y1="1448" x2="580" y2="1222"/>
</g>
<g stroke="#8a7a86" stroke-width="1.4">
<line x1="263" y1="1378" x2="673" y2="1246"/><line x1="580" y1="1222" x2="778" y2="1337"/>
<line x1="673" y1="1246" x2="632" y2="1497"/><line x1="612" y1="1377" x2="632" y2="1497"/><line x1="673" y1="1246" x2="765" y2="1433"/>
<line x1="632" y1="1497" x2="765" y2="1433"/><line x1="471" y1="1497" x2="673" y2="1246"/>
</g>
<line x1="471" y1="1497" x2="632" y2="1497" stroke="#999" stroke-width="2"/>
<line x1="438" y1="1213" x2="580" y2="1222" stroke="#999" stroke-width="2"/>
<line x1="580" y1="1222" x2="673" y2="1246" stroke="#8a7a86" stroke-width="2"/>
<line x1="303" y1="1242" x2="580" y2="1222" stroke="#777" stroke-width="2.2"/>
<line x1="303" y1="1242" x2="438" y2="1213" stroke="#666" stroke-width="2.6"/>
<g stroke="#5f5f66" stroke-width="3.6">
<line x1="303" y1="1242" x2="263" y2="1378"/><line x1="303" y1="1242" x2="311" y2="1448"/><line x1="263" y1="1378" x2="311" y2="1448"/>
<line x1="438" y1="1213" x2="263" y2="1378"/><line x1="438" y1="1213" x2="311" y2="1448"/><line x1="438" y1="1213" x2="471" y2="1497"/>
<line x1="580" y1="1222" x2="471" y2="1497"/>
</g>
<g stroke="#5d4a60" stroke-width="3.6">
<line x1="580" y1="1222" x2="612" y2="1377"/><line x1="673" y1="1246" x2="612" y2="1377"/><line x1="673" y1="1246" x2="778" y2="1337"/><line x1="612" y1="1377" x2="778" y2="1337"/>
</g>
</g>
<text x="552" y="1364" font-size="11" fill="#555" transform="rotate(-12 552 1364)" text-anchor="middle">0.212</text>
<text x="483" y="1424" font-size="11" fill="#555" transform="rotate(-80 483 1424)" text-anchor="middle">0.315</text>
<text x="575" y="1432" font-size="11" fill="#555" transform="rotate(40 575 1432)" text-anchor="middle">0.323</text>

<g stroke="#33337a" stroke-width=".6">
<circle cx="438" cy="1213" r="17" fill="url(#sb)"/><circle cx="303" cy="1242" r="17" fill="url(#sb)"/>
<circle cx="263" cy="1378" r="17" fill="url(#sb)"/><circle cx="311" cy="1448" r="17" fill="url(#sb)"/>
<circle cx="471" cy="1497" r="17" fill="url(#sb)"/><circle cx="580" cy="1222" r="17" fill="url(#sb)"/>
<circle cx="673" cy="1246" r="17" fill="url(#sb)"/><circle cx="778" cy="1337" r="17" fill="url(#sb)"/>
<circle cx="612" cy="1377" r="17" fill="url(#sb)"/><circle cx="765" cy="1433" r="17" fill="url(#sb)"/>
<circle cx="632" cy="1497" r="17" fill="url(#sb)"/><circle cx="496" cy="1352" r="17" fill="url(#so)" stroke="#7a4a20"/>
</g>
<text class="cn" x="438" y="1216">RAF1</text><text class="cn" x="303" y="1245">MAPK1</text><text class="cn" x="263" y="1381">MAPK3</text>
<text class="cn" x="311" y="1451">MAP2K2</text><text class="cn" x="471" y="1500">EGFR</text><text class="cn" x="580" y="1225">MTOR</text>
<text class="cn" x="673" y="1249">MAP1LC3B</text><text class="cn" x="778" y="1340">OPTN</text><text class="cn" x="612" y="1380">SQSTM1</text>
<text class="cn" x="765" y="1436">TBC1D5</text><text class="cn" x="632" y="1500">RAB7A</text><text class="cn" x="496" y="1355">SCAMP3</text>

<g fill="#aaa">
<line x1="860" y1="1180" x2="885" y2="1180" stroke="#ccc" stroke-width="1"/><circle cx="860" cy="1180" r="4"/><circle cx="885" cy="1180" r="4"/>
<line x1="860" y1="1197" x2="885" y2="1197" stroke="#bbb" stroke-width="1.6"/><circle cx="860" cy="1197" r="4"/><circle cx="885" cy="1197" r="4"/>
<line x1="860" y1="1214" x2="885" y2="1214" stroke="#aaa" stroke-width="2.4"/><circle cx="860" cy="1214" r="4"/><circle cx="885" cy="1214" r="4"/>
<line x1="860" y1="1231" x2="885" y2="1231" stroke="#999" stroke-width="3.4"/><circle cx="860" cy="1231" r="4"/><circle cx="885" cy="1231" r="4"/>
</g>
<text x="893" y="1183" font-size="10">Low confidence (0.150)</text>
<text x="893" y="1200" font-size="10">Medium confidence (0.400)</text>
<text x="893" y="1217" font-size="10">High confidence (0.700)</text>
<text x="893" y="1234" font-size="10">Highest confidence (0.900)</text>
</svg>
</div>
</body></html>
